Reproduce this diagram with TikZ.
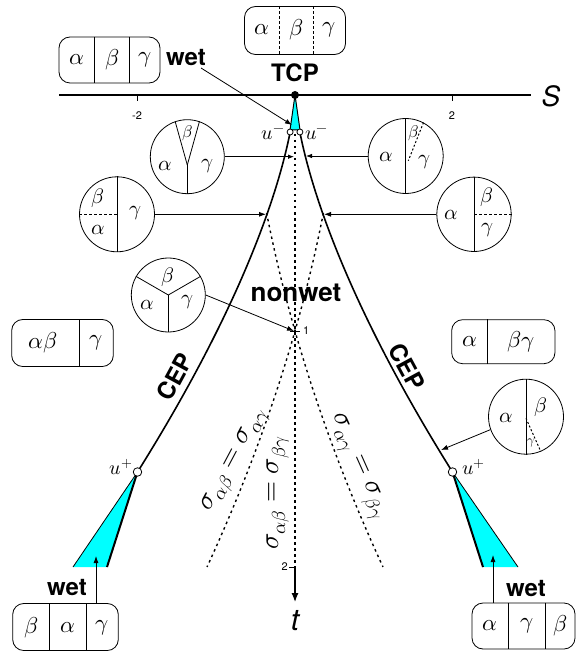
\documentclass[tikz,border=0pt]{standalone}
\usepackage{fontspec}
\usepackage{unicode-math}
\setmathfont{Latin Modern Math}
\setsansfont{TeX Gyre Heros}
\usetikzlibrary{arrows.meta,calc}
\definecolor{wetc}{RGB}{0,255,255}
\begin{document}
\begin{tikzpicture}[x=1pt,y=-1pt,
  phbox/.style={draw, rounded corners=11pt, line width=0.8pt, inner sep=0pt},
  disk/.style={draw, circle, minimum size=75pt, inner sep=0pt, line width=0.8pt},
  blab/.style={inner sep=0pt, font=\fontsize{23}{25}\selectfont},
  clab/.style={inner sep=0pt, font=\fontsize{21}{23}\selectfont},
  slab/.style={inner sep=0pt, font=\fontsize{17}{19}\selectfont},
  tag/.style={inner sep=0pt, font=\sffamily\bfseries\fontsize{24}{26}\selectfont},
  num/.style={inner sep=0pt, font=\sffamily\fontsize{11}{12}\selectfont},
  ulab/.style={inner sep=0pt, font=\fontsize{20}{22}\selectfont},
  arr/.style={-{Latex[length=7pt,width=5pt]}, line width=0.8pt},
  sarr/.style={-{Latex[length=6pt,width=4.5pt]}, line width=0.8pt},
  dotl/.style={line width=1.4pt, dash pattern=on 2.5pt off 3.5pt},
  cepl/.style={line width=1.6pt},
  ring/.style={circle, draw, fill=white, inner sep=0pt, line width=0.8pt},
  sig/.style={inner sep=0pt, font=\fontsize{27}{29}\selectfont},
]
\useasboundingbox (0,0) rectangle (576,652);

% ---- S axis ----
\draw[line width=1.8pt] (59,95) -- (531,95);
\draw[line width=0.8pt] (137.6,95) -- (137.6,101);
\draw[line width=0.8pt] (452.8,95) -- (452.8,101);
\node[num] (tm2) at (137,116) {-2};
\node[num] (tp2) at (452,116) {2};
\node[inner sep=0pt, font=\sffamily\itshape\fontsize{28}{30}\selectfont] (Slab) at (551,96) {S};

% ---- t axis ----
\draw[dotl] (295,134) -- (295,567);
\coordinate (t2) at (295,567);
\coordinate (tend) at (295,602);
\draw[line width=1.2pt, -{Latex[length=9pt,width=7pt]}] (t2) -- (tend);
\draw[line width=0.8pt] (289,567) -- (295,567);
\node[num, anchor=east] (lt2) at (288,567) {2};
\draw[line width=0.8pt] (290,331) -- (300,331);
\node[num, anchor=west] (lt1) at (303,331) {1};
\node[inner sep=0pt, font=\sffamily\itshape\fontsize{30}{32}\selectfont] (tlab) at (295,621) {t};

% ---- dotted equal-tension curves ----
\draw[dotl] plot[domain=0.5:2, samples=40] ({295+67.2*(\x-1)+20.8*(\x-1)*(\x-1)},{95+236*\x});
\draw[dotl] plot[domain=0.5:2, samples=40] ({295-67.2*(\x-1)-20.8*(\x-1)*(\x-1)},{95+236*\x});

% ---- CEP curves ----
\draw[cepl] plot[domain=0.157:1.5975, samples=60] ({295-78*\x*sqrt(\x)},{95+236*\x});
\draw[cepl] plot[domain=0.157:1.5975, samples=60] ({295+78*\x*sqrt(\x)},{95+236*\x});

% ---- wet wedges ----
\filldraw[fill=wetc, line width=1pt, line join=miter] (295,95) -- (290,130) -- (300,130) -- cycle;
\fill[wetc] (137.5,472) -- (73,567) -- (107,567) -- cycle;
\draw[line width=0.8pt] (137.5,472) -- (73,567);
\draw[line width=2pt] (137.5,472) -- (107,567);
\fill[wetc] (452.5,472) -- (483,567) -- (518,567) -- cycle;
\draw[line width=2pt] (452.5,472) -- (483,567);
\draw[line width=0.8pt] (452.5,472) -- (518,567);

\node[circle, fill, inner sep=0pt, minimum size=8pt] (tcp) at (295,95) {};
\node[ring, minimum size=6pt] (umL) at (290.1,132) {};
\node[ring, minimum size=6pt] (umR) at (299.9,132) {};
\node[ring, minimum size=8.5pt] (upL) at (137.5,472) {};
\node[ring, minimum size=8.5pt] (upR) at (452.5,472) {};
\node[ulab, anchor=east] (umLl) at (285,134) {$u^-$};
\node[ulab, anchor=west] (umRl) at (305,134) {$u^-$};
\node[ulab, anchor=east] (upLl) at (133,467) {$u^+$};
\node[ulab, anchor=west] (upRl) at (462,467) {$u^+$};

% ---- labels ----
\node[tag] (tcpl) at (295,73) {TCP};
\node[tag] (wet1) at (186,58) {wet};
\node[tag, font=\sffamily\bfseries\fontsize{26}{28}\selectfont] (nonwet) at (296,293) {nonwet};
\node[tag, rotate=61.5] (cepL) at (175,377) {CEP};
\node[tag, rotate=-61.5] (cepR) at (407,367) {CEP};
\node[tag] (wet2) at (67,588) {wet};
\node[tag] (wet3) at (526,589) {wet};
\node[sig, rotate=62] (s1) at (236,461) {$\sigma_{\alpha\beta}=\sigma_{\alpha\gamma}$};
\node[sig, rotate=90] (s2) at (278,493) {$\sigma_{\alpha\beta}=\sigma_{\beta\gamma}$};
\node[sig, rotate=-66] (s3) at (357,467) {$\sigma_{\alpha\gamma}=\sigma_{\beta\gamma}$};

% ---- boxes ----
\node[phbox, minimum width=101pt, minimum height=48pt] (btop) at (295,30.5) {};
\draw[line width=0.8pt, dash pattern=on 3pt off 2pt] (279,0 |- btop.north) -- (279,0 |- btop.south);
\draw[line width=0.8pt, dash pattern=on 3pt off 2pt] (313,0 |- btop.north) -- (313,0 |- btop.south);
\node[blab] (bta) at (262,30) {$\alpha$};
\node[blab] (btb) at (296,30) {$\beta$};
\node[blab] (btc) at (329,30) {$\gamma$};

\node[phbox, minimum width=101pt, minimum height=46pt] (bw) at (109.5,60) {};
\draw[line width=0.8pt] (94.7,0 |- bw.north) -- (94.7,0 |- bw.south);
\draw[line width=0.8pt] (129,0 |- bw.north) -- (129,0 |- bw.south);
\node[blab] (bwa) at (77,60) {$\alpha$};
\node[blab] (bwb) at (112,60) {$\beta$};
\node[blab] (bwc) at (145,60) {$\gamma$};

\node[phbox, minimum width=101.6pt, minimum height=47pt] (bml) at (62.5,343) {};
\draw[line width=0.8pt] (79,0 |- bml.north) -- (79,0 |- bml.south);
\node[blab] (bmla) at (43,343) {$\alpha\beta$};
\node[blab] (bmlb) at (96,343) {$\gamma$};

\node[phbox, minimum width=103.3pt, minimum height=44pt] (bmr) at (503.3,341.7) {};
\draw[line width=0.8pt] (487.3,0 |- bmr.north) -- (487.3,0 |- bmr.south);
\node[blab] (bmra) at (469.5,342) {$\alpha$};
\node[blab] (bmrb) at (521,342) {$\beta\gamma$};

\node[phbox, minimum width=105.6pt, minimum height=47pt] (bbl) at (65.5,627) {};
\draw[line width=0.8pt] (49.3,0 |- bbl.north) -- (49.3,0 |- bbl.south);
\draw[line width=0.8pt] (86,0 |- bbl.north) -- (86,0 |- bbl.south);
\node[blab] (bbla) at (31,628) {$\beta$};
\node[blab] (bblb) at (67.7,628) {$\alpha$};
\node[blab] (bblc) at (102,628) {$\gamma$};

\node[phbox, minimum width=103pt, minimum height=46pt] (bbr) at (523.5,626) {};
\draw[line width=0.8pt] (508.3,0 |- bbr.north) -- (508.3,0 |- bbr.south);
\draw[line width=0.8pt] (545,0 |- bbr.north) -- (545,0 |- bbr.south);
\node[blab] (bbra) at (490,626) {$\alpha$};
\node[blab] (bbrb) at (526.7,626) {$\gamma$};
\node[blab] (bbrc) at (560.5,626) {$\beta$};

% ---- disks ----
\node[disk, minimum size=74pt] (D1) at (187.3,156.7) {};
\coordinate (D1j) at (187.3,165);
\draw[line width=0.8pt] (D1j) -- (D1.south);
\draw[line width=0.8pt] (D1j) -- (D1.109);
\draw[line width=0.8pt] (D1j) -- (D1.71);
\node[clab] (D1a) at (165,166) {$\alpha$};
\node[clab] (D1c) at (207,166) {$\gamma$};
\node[slab] (D1b) at (187.3,133) {$\beta$};

\node[disk] (D2) at (117,214.3) {};
\draw[line width=0.8pt] (D2.north) -- (D2.south);
\draw[line width=0.8pt, dash pattern=on 3pt off 2pt] (D2.west) -- (D2.center);
\node[clab] (D2b) at (98.3,198.5) {$\beta$};
\node[clab] (D2a) at (98.3,229.5) {$\alpha$};
\node[clab] (D2c) at (135,213.3) {$\gamma$};

\node[disk, minimum size=74pt] (D3) at (168.3,295) {};
\draw[line width=0.8pt] (D3.center) -- (D3.south);
\draw[line width=0.8pt] (D3.center) -- (D3.150);
\draw[line width=0.8pt] (D3.center) -- (D3.30);
\node[clab] (D3b) at (168.3,277) {$\beta$};
\node[clab] (D3a) at (147,305) {$\alpha$};
\node[clab] (D3c) at (187,302) {$\gamma$};

\node[disk] (D4) at (405.7,156) {};
\coordinate (D4j) at (408.3,160.7);
\draw[line width=0.8pt] (D4.north) -- (D4.south);
\draw[line width=1pt, dash pattern=on 2pt off 2pt] (D4.62) -- (D4j);
\node[clab] (D4a) at (386.7,157) {$\alpha$};
\node[slab] (D4b) at (413.5,133) {$\beta$};
\node[clab] (D4c) at (424,162) {$\gamma$};

\node[disk, minimum size=74.4pt] (D5) at (474,214.3) {};
\draw[line width=0.8pt] (D5.north) -- (D5.south);
\draw[line width=0.8pt, dash pattern=on 3pt off 2pt] (D5.center) -- (D5.east);
\node[clab] (D5a) at (451.7,215) {$\alpha$};
\node[clab] (D5b) at (487,197) {$\beta$};
\node[clab] (D5c) at (487,230) {$\gamma$};

\node[disk] (D6) at (526,416.7) {};
\coordinate (D6j) at (526,418.3);
\draw[line width=0.8pt] (D6.north) -- (D6.south);
\draw[line width=1pt, dash pattern=on 2pt off 2pt] (D6j) -- (D6.-67);
\node[clab] (D6a) at (506,418) {$\alpha$};
\node[clab] (D6b) at (541,407) {$\beta$};
\node[inner sep=0pt, font=\fontsize{13}{14}\selectfont] (D6c) at (531,443) {$\gamma$};

% ---- arrows ----
\coordinate (p1) at (294,156.7);
\coordinate (p2) at (266,214.3);
\coordinate (p3) at (294,331);
\coordinate (p4) at (306,156);
\coordinate (p5) at (324,214.3);
\coordinate (p6) at (441,450);
\coordinate (wS) at (201,68);
\coordinate (wE) at (292,125);
\coordinate (wl0) at (96,603);
\coordinate (wl1) at (96,556);
\coordinate (wr0) at (493,603);
\coordinate (wr1) at (493,555);
\draw[sarr] (D1.east) -- (p1);
\draw[arr] (D2.east) -- (p2);
\draw[arr] (D3.east) -- (p3);
\draw[sarr] (D4.west) -- (p4);
\draw[arr] (D5.west) -- (p5);
\draw[arr] (D6.200) -- (p6);
\draw[arr] (wS) -- (wE);
\draw[arr] (wl0) -- (wl1);
\draw[arr] (wr0) -- (wr1);
\end{tikzpicture}
\end{document}
